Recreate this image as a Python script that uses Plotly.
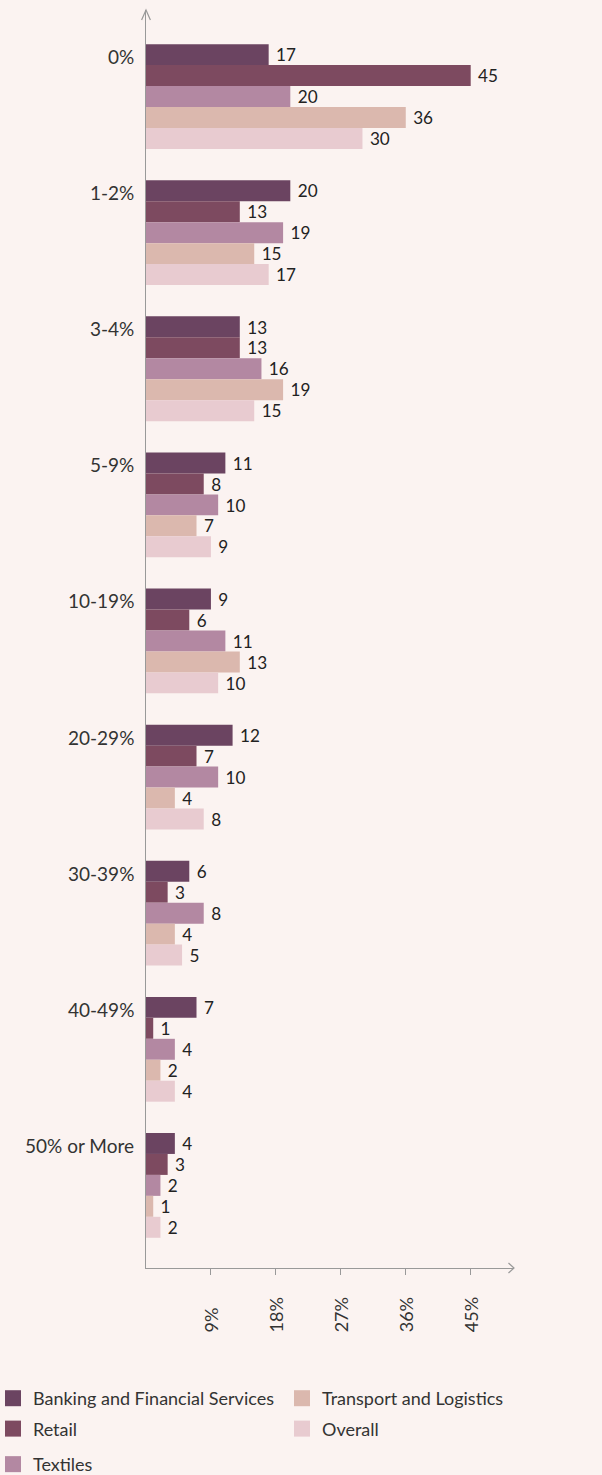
import plotly.graph_objects as go

categories = ["0%", "1-2%", "3-4%", "5-9%", "10-19%", "20-29%", "30-39%", "40-49%", "50% or More"]
series_names = ["Banking and Financial Services", "Retail", "Textiles", "Transport and Logistics", "Overall"]
banking = [17, 20, 13, 11, 9, 12, 6, 7, 4]
retail = [45, 13, 13, 8, 6, 7, 3, 1, 3]
textiles = [20, 19, 16, 10, 11, 10, 8, 4, 2]
transport = [36, 15, 19, 7, 13, 4, 4, 2, 1]
overall = [30, 17, 15, 9, 10, 8, 5, 4, 2]
tick_values = [9, 18, 27, 36, 45]
tick_labels = ["9%", "18%", "27%", "36%", "45%"]

colors = ["#6b4461", "#7d4a60", "#b388a2", "#dbb8ae", "#e8cbd0"]
legend_ids = ["legend", "legend", "legend3", "legend2", "legend2"]
series = [banking, retail, textiles, transport, overall]

FONT = "Lato"
BG = "#fbf3f1"

fig = go.Figure()
for name, vals, col in zip(series_names, series, colors):
    fig.add_trace(go.Bar(
        y=categories, x=vals, name=name, orientation="h",
        marker=dict(color=col, line=dict(width=0)),
        text=[" " + str(v) for v in vals], textposition="outside",
        textfont=dict(family=FONT, size=18, color="#222222"),
        cliponaxis=False, showlegend=False, hoverinfo="x+name",
    ))
# legend swatches
for name, col, lid in zip(series_names, colors, legend_ids):
    fig.add_trace(go.Scatter(
        x=[None], y=[None], mode="markers", name=name,
        marker=dict(symbol="square", size=16, color=col),
        legend=lid, legendgroup=name, showlegend=True,
    ))

annotations = []
for c in categories:
    annotations.append(dict(
        x=0, xref="paper", y=c, yref="y", text=c, showarrow=False,
        xanchor="right", xshift=-10, yshift=40,
        font=dict(family=FONT, size=19, color="#333333"),
    ))
for v, t in zip(tick_values, tick_labels):
    annotations.append(dict(
        x=v, xref="x", y=0, yref="paper", text=t, showarrow=False,
        textangle=-90, xanchor="center", yanchor="bottom", yshift=-66,
        font=dict(family=FONT, size=18, color="#333333"),
    ))

legend_common = dict(orientation="v", xref="paper", yref="container",
                     xanchor="left", yanchor="top", tracegroupgap=4,
                     font=dict(family=FONT, size=18, color="#333333"),
                     bgcolor="rgba(0,0,0,0)", traceorder="grouped")

fig.update_layout(
    width=602, height=1475,
    paper_bgcolor=BG, plot_bgcolor=BG,
    margin=dict(l=146, r=88, t=10, b=207, autoexpand=False),
    barmode="group", bargap=0.23, bargroupgap=0,
    font=dict(family=FONT, size=18, color="#333333"),
    xaxis=dict(range=[0, 51], tickvals=tick_values, showticklabels=False,
               ticks="outside", ticklen=6, tickcolor="#999999",
               showgrid=False, zeroline=False, showline=True, linecolor="#999999",
               linewidth=1.2),
    yaxis=dict(range=[8.607, -0.636], showticklabels=False, showgrid=False,
               zeroline=False, showline=True, linecolor="#999999", linewidth=1.2,
               ticks=""),
    showlegend=True,
    legend=dict(x=-0.4158, y=0.0644, **legend_common),
    legend2=dict(x=0.3696, y=0.0644, **legend_common),
    legend3=dict(x=-0.4158, y=0.0197, **legend_common),
    annotations=annotations,
)

fig.add_shape(type="path", xref="paper", yref="paper",
              path="M -0.012 0.992 L 0 1 L 0.012 0.992", line=dict(color="#999999", width=1.2))
fig.add_shape(type="path", xref="paper", yref="paper",
              path="M 0.985 0.004 L 1 0 L 0.985 -0.004", line=dict(color="#999999", width=1.2))

fig.write_html("out.html", config={"displayModeBar": False},
               post_script="document.body.style.margin='0';document.body.style.background='#fbf3f1';")
